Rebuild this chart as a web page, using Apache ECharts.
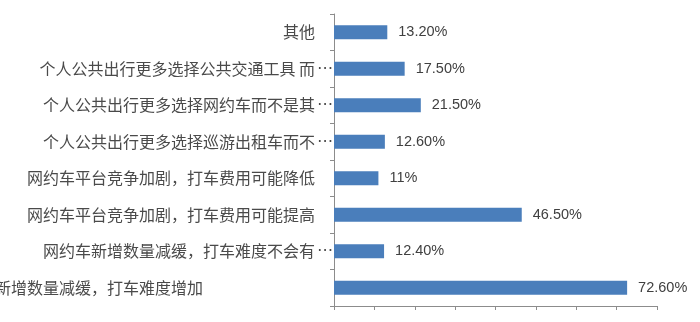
<!DOCTYPE html>
<html>
<head>
<meta charset="utf-8">
<script src="https://cdn.jsdelivr.net/npm/echarts@6/dist/echarts.min.js"></script>
<style>
  html, body { margin: 0; padding: 0; background: #fff; }
  #chart { width: 700px; height: 322px; }
</style>
</head>
<body>
<div id="chart"></div>
<script>
// categories, top to bottom
const categories = [
  '其他',
  '个人公共出行更多选择公共交通工具 而',
  '个人公共出行更多选择网约车而不是其',
  '个人公共出行更多选择巡游出租车而不',
  '网约车平台竞争加剧，打车费用可能降低',
  '网约车平台竞争加剧，打车费用可能提高',
  '网约车新增数量减缓，打车难度不会有',
  '网约车新增数量减缓，打车难度增加'
];
// which labels were cut with an ellipsis in the original
const truncated = [false, true, true, true, false, false, true, false];
const values = [13.2, 17.5, 21.5, 12.6, 11, 46.5, 12.4, 72.6];

const chart = echarts.init(document.getElementById('chart'));

const textColor = '#404040';
const axisColor = '#8c8c8c';

chart.setOption({
  animation: false,
  grid: { left: 334, right: 43, top: 14, bottom: 16, containLabel: false, outerBoundsMode: 'none' },
  xAxis: {
    type: 'value',
    min: 0,
    max: 80,
    interval: 10,
    axisLine: { show: true, lineStyle: { color: axisColor } },
    axisTick: { show: true, length: 4, lineStyle: { color: axisColor } },
    axisLabel: { show: false },
    splitLine: { show: false }
  },
  yAxis: {
    type: 'category',
    inverse: true,
    data: categories,
    axisLine: { show: true, lineStyle: { color: axisColor } },
    axisTick: { show: true, length: 4, lineStyle: { color: axisColor } },
    axisLabel: {
      interval: 0,
      margin: 1,
      formatter: (v, i) => {
        if (i === categories.length - 1) return '{t|' + v + '}{w| }';
        return truncated[i] ? '{t|' + v + '}{e|⋯}' : '{t|' + v + '}{p| }';
      },
      rich: {
        t: { fontSize: 16, color: '#4a4a4a', fontFamily: 'Noto Sans CJK SC' },
        e: { fontSize: 16, color: '#4a4a4a', width: 18, align: 'right', verticalAlign: 'middle', fontFamily: 'DejaVu Sans' },
        p: { width: 18, fontSize: 12 },
        w: { width: 130, fontSize: 12 }
      }
    }
  },
  series: [{
    type: 'bar',
    data: values,
    barCategoryGap: '62%',
    itemStyle: { color: '#4a7ebb' },
    label: {
      show: true,
      position: 'right',
      distance: 11,
      color: textColor,
      fontSize: 14.5,
      fontFamily: 'Liberation Sans',
      formatter: p => (Number.isInteger(p.value) ? p.value : p.value.toFixed(2)) + '%'
    }
  }]
});
</script>
</body>
</html>
